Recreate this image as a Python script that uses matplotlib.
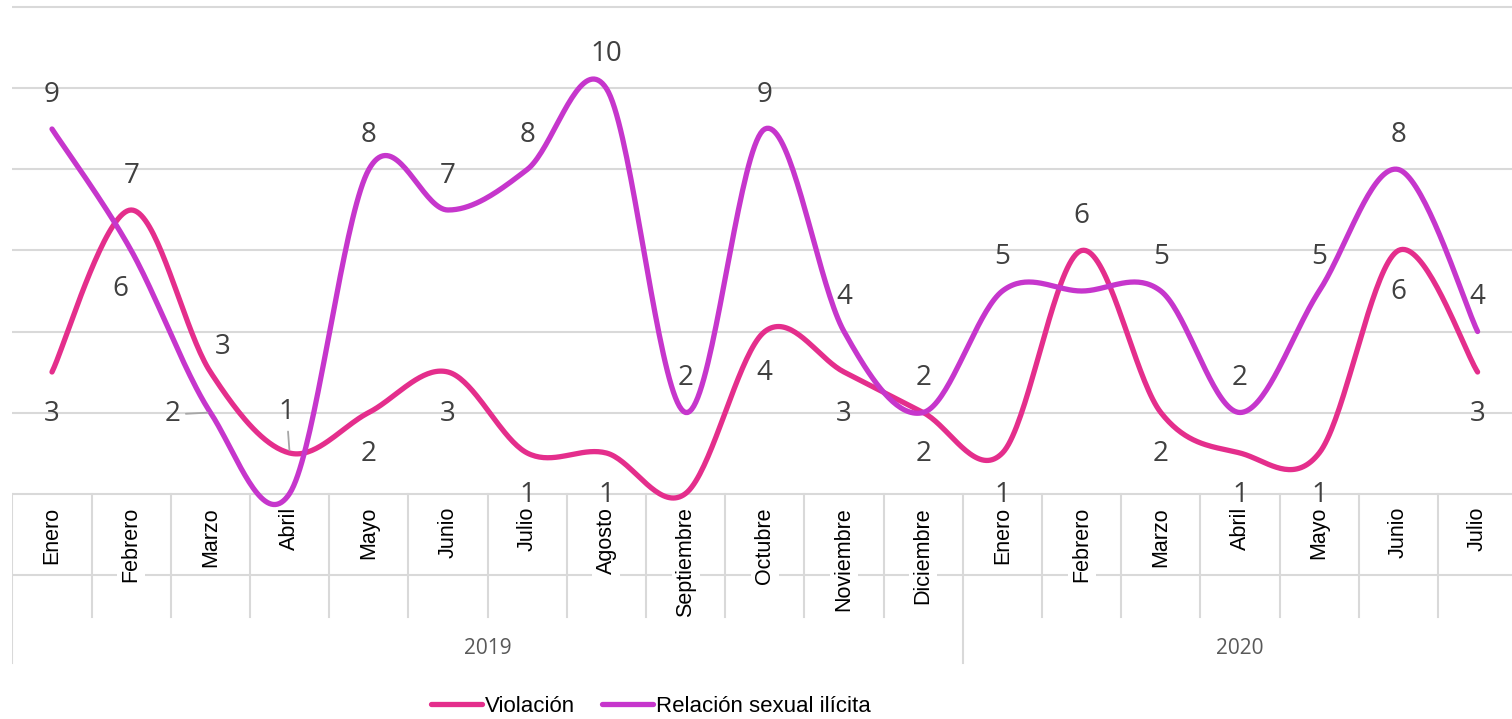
import numpy as np
import matplotlib
matplotlib.use("Agg")
import matplotlib.pyplot as plt
from matplotlib.lines import Line2D

# ---------------- data ----------------
months = ["Enero", "Febrero", "Marzo", "Abril", "Mayo", "Junio", "Julio", "Agosto",
          "Septiembre", "Octubre", "Noviembre", "Diciembre",
          "Enero", "Febrero", "Marzo", "Abril", "Mayo", "Junio", "Julio"]
years = ["2019", "2020"]
months_per_year = [12, 7]
violacion = [3, 7, 3, 1, 2, 3, 1, 1, 0, 4, 3, 2, 1, 6, 2, 1, 1, 6, 3]
relacion = [9, 6, 2, 0, 8, 7, 8, 10, 2, 9, 4, 2, 5, 5, 5, 2, 5, 8, 4]
series_names = ["Violación", "Relación sexual ilícita"]

# label placement (style): t=above, b=below, None=hidden
viol_lab = ["b", "t", "tr", "tl", "b", "b", "b", "b", None, "b", "b", "b",
            "b", "t", "b", "b", "b", "b", "b"]
rel_lab = ["t", "bl", "l", None, "t", "t", "t", "t", "t", "t", "t", "t",
           "t", None, "t", "t", "t", "t", "t"]

PINK = "#E42E8C"
PURPLE = "#C636CC"
GRID = "#D9D9D9"

W, H, DPI = 1512, 719, 100
fig = plt.figure(figsize=(W / DPI, H / DPI), dpi=DPI)

# axes geometry: category slots 79.2 px wide, first center at x=52
slot = 79.2
left_px = 52 - slot / 2
n = len(months)
ax = fig.add_axes([left_px / W, 0, (slot * n) / W, 1])
ax.set_xlim(-0.5, n - 0.5)
# y: value 0 at pixel 493.5, 40.5 px per unit
y0_px, unit = 493.5, 40.5
ax.set_ylim((y0_px - H) / unit, y0_px / unit)
ax.set_axis_off()

# gridlines
for gv in range(-2, 13, 2):
    ax.plot([-0.5, n - 0.5], [gv, gv], color=GRID, lw=1.5, zorder=0.5,
            solid_capstyle="butt")

# category separators
tick_bottom = (y0_px - 617) / unit
year_bottom = (y0_px - 663) / unit
boundaries = [0] + list(np.cumsum(months_per_year))
for k in range(n + 1):
    yb = year_bottom if k in boundaries else tick_bottom
    ax.plot([k - 0.5, k - 0.5], [0, yb], color=GRID, lw=1.5, zorder=0.5)

# month labels
lab_top = (y0_px - 507) / unit
for i, m in enumerate(months):
    ax.text(i, lab_top, m, rotation=90, ha="center", va="top", fontsize=15.5,
            family="Liberation Sans", color="black", zorder=2,
            bbox=dict(fc="white", ec="none", pad=2.5))

# year labels
start = 0
for yname, cnt in zip(years, months_per_year):
    ax.text(start + cnt / 2 - 0.5, (y0_px - 648) / unit, yname, ha="center",
            va="center", fontsize=15, family="Open Sans", color="#595959")
    start += cnt


def smooth(vals, steps=40):
    P = np.column_stack([np.arange(len(vals), dtype=float), np.asarray(vals, float)])
    out = []
    t = np.linspace(0, 1, steps)[:, None]
    for i in range(len(P) - 1):
        p0 = P[max(i - 1, 0)]
        p1 = P[i]
        p2 = P[i + 1]
        p3 = P[min(i + 2, len(P) - 1)]
        c1 = p1 + (p2 - p0) / 6
        c2 = p2 - (p3 - p1) / 6
        B = ((1 - t) ** 3) * p1 + 3 * ((1 - t) ** 2) * t * c1 + 3 * (1 - t) * t ** 2 * c2 + t ** 3 * p2
        out.append(B if i == 0 else B[1:])
    B = np.vstack(out)
    return B[:, 0], B[:, 1]


for vals, col, z in [(violacion, PINK, 3), (relacion, PURPLE, 4)]:
    xs, ys = smooth(vals)
    ax.plot(xs, ys, color=col, lw=3.8, solid_capstyle="round",
            solid_joinstyle="round", zorder=z)

offsets = {
    "t": (0, 34), "b": (0, -42), "tr": (12, 25), "tl": (-3, 41),
    "bl": (-11, -39), "l": (-38, -2),
}
leaders = {"tl", "l"}


def put_labels(vals, codes):
    for i, (v, c) in enumerate(zip(vals, codes)):
        if c is None:
            continue
        dx, dy = offsets[c]
        kw = {}
        if c in leaders:
            kw["arrowprops"] = dict(arrowstyle="-", color="#A6A6A6", lw=1.3,
                                    shrinkA=2, shrinkB=2)
        ax.annotate(str(v), xy=(i, v), xytext=(dx, dy), textcoords="offset pixels",
                    ha="center", va="center", fontsize=20, family="Open Sans",
                    color="#404040", zorder=6, **kw)


put_labels(violacion, viol_lab)
put_labels(relacion, rel_lab)

handles = [Line2D([], [], color=PINK, lw=3.8, solid_capstyle="round"),
           Line2D([], [], color=PURPLE, lw=3.8, solid_capstyle="round")]
fig.legend(handles, series_names, loc="center",
           bbox_to_anchor=(651 / W, 1 - 706 / H), ncol=2, frameon=False,
           prop=dict(family="Liberation Sans", size=16), handlelength=2.3,
           handletextpad=0.15, columnspacing=1.2, borderpad=0, borderaxespad=0)

fig.savefig("out.png", dpi=DPI, facecolor="white")
